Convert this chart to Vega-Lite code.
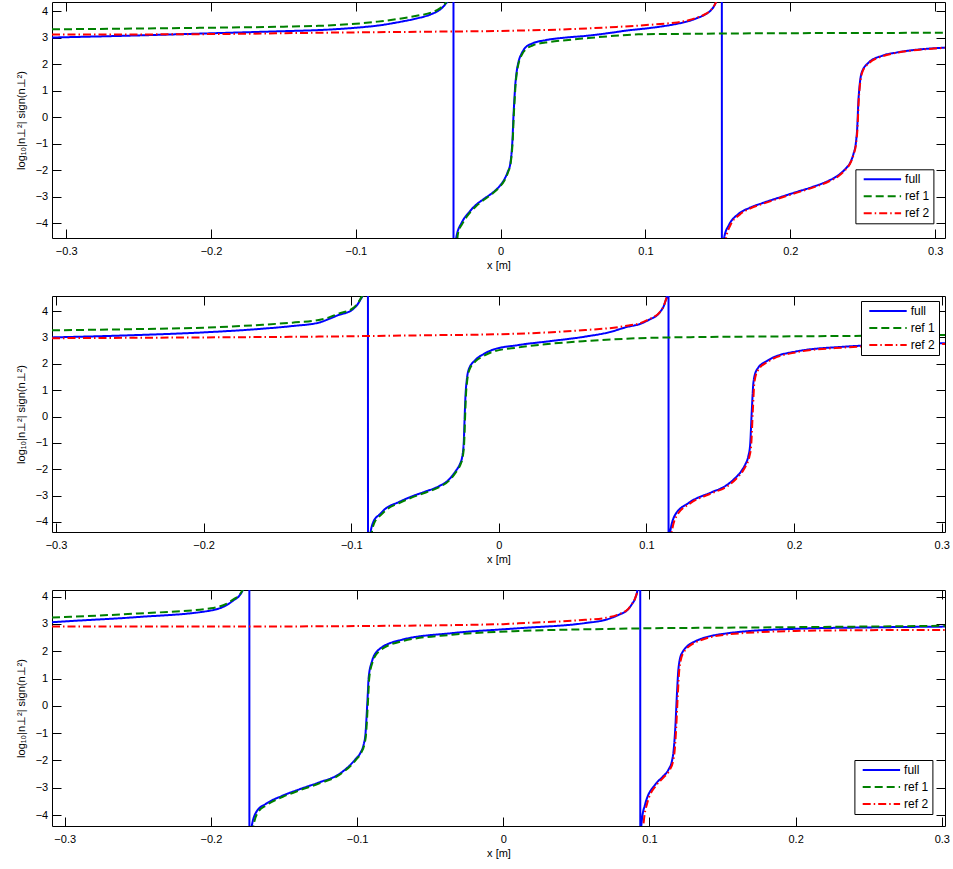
{
"$schema": "https://vega.github.io/schema/vega-lite/v6.json",
"background": "white",
"padding": {"left": 14, "top": 1, "right": 0, "bottom": 0},
"spacing": 24,
"config": {
 "view": {"stroke": "black", "strokeWidth": 1},
 "font": "Liberation Sans",
 "axis": {"grid": false, "domain": false, "tickColor": "black", "tickWidth": 1, "tickSize": -9, "labelFontSize": 11, "titleFontSize": 11, "titleFontWeight": "normal", "labelColor": "black", "titleColor": "black", "labelFont": "Liberation Sans", "titleFont": "Liberation Sans"},
 "axisX": {"labelPadding": 16.5, "titlePadding": 2.5},
 "axisY": {"labelPadding": 13.3, "titlePadding": 9},
 "legend": {"title": null, "orient": "none", "fillColor": "white", "strokeColor": "black", "padding": 4, "symbolType": "M-0.34,0H7.14", "symbolSize": 100, "symbolStrokeWidth": 2, "symbolOffset": 0, "labelFontSize": 12, "labelOffset": 33.7, "rowPadding": 5, "labelColor": "black", "labelFont": "Liberation Sans"}
},
"datasets": {
"p1": [
{"s":"full","g":"a","x":-0.3098,"y":3.00},{"s":"full","g":"a","x":-0.25,"y":3.08},{"s":"full","g":"a","x":-0.2,"y":3.16},{"s":"full","g":"a","x":-0.15,"y":3.24},{"s":"full","g":"a","x":-0.126,"y":3.28},{"s":"full","g":"a","x":-0.1,"y":3.37},{"s":"full","g":"a","x":-0.085,"y":3.45},{"s":"full","g":"a","x":-0.0685,"y":3.6},{"s":"full","g":"a","x":-0.058,"y":3.72},{"s":"full","g":"a","x":-0.048,"y":3.88},{"s":"full","g":"a","x":-0.042,"y":4.05},{"s":"full","g":"a","x":-0.0383,"y":4.25},{"s":"full","g":"a","x":-0.0355,"y":4.5},{"s":"full","g":"a","x":-0.0335,"y":5.0},{"s":"full","g":"a","x":-0.0326,"y":6},{"s":"full","g":"a","x":-0.03255,"y":-6},{"s":"full","g":"a","x":-0.0318,"y":-5},{"s":"full","g":"a","x":-0.0305,"y":-4.5},{"s":"full","g":"a","x":-0.0268,"y":-3.97},{"s":"full","g":"a","x":-0.022,"y":-3.6},{"s":"full","g":"a","x":-0.0176,"y":-3.34},{"s":"full","g":"a","x":-0.012,"y":-3.1},{"s":"full","g":"a","x":-0.006,"y":-2.87},{"s":"full","g":"a","x":-0.001,"y":-2.62},{"s":"full","g":"a","x":0.002,"y":-2.4},{"s":"full","g":"a","x":0.005,"y":-2.05},{"s":"full","g":"a","x":0.0066,"y":-1.77},{"s":"full","g":"a","x":0.0076,"y":-1.3},{"s":"full","g":"a","x":0.0082,"y":-0.8},{"s":"full","g":"a","x":0.0088,"y":0.0},{"s":"full","g":"a","x":0.0094,"y":0.6},{"s":"full","g":"a","x":0.01,"y":1.15},{"s":"full","g":"a","x":0.0108,"y":1.6},{"s":"full","g":"a","x":0.0124,"y":2.1},{"s":"full","g":"a","x":0.0145,"y":2.4},{"s":"full","g":"a","x":0.017,"y":2.62},{"s":"full","g":"a","x":0.022,"y":2.78},{"s":"full","g":"a","x":0.0308,"y":2.9},{"s":"full","g":"a","x":0.045,"y":3.0},{"s":"full","g":"a","x":0.0584,"y":3.06},{"s":"full","g":"a","x":0.075,"y":3.17},{"s":"full","g":"a","x":0.088,"y":3.27},{"s":"full","g":"a","x":0.1,"y":3.34},{"s":"full","g":"a","x":0.1113,"y":3.42},{"s":"full","g":"a","x":0.122,"y":3.52},{"s":"full","g":"a","x":0.1297,"y":3.62},{"s":"full","g":"a","x":0.136,"y":3.74},{"s":"full","g":"a","x":0.1412,"y":3.87},{"s":"full","g":"a","x":0.145,"y":4.02},{"s":"full","g":"a","x":0.148,"y":4.25},{"s":"full","g":"a","x":0.1498,"y":4.5},{"s":"full","g":"a","x":0.1515,"y":5.0},{"s":"full","g":"a","x":0.1527,"y":6},{"s":"full","g":"a","x":0.15275,"y":-6},{"s":"full","g":"a","x":0.1535,"y":-5},{"s":"full","g":"a","x":0.1545,"y":-4.5},{"s":"full","g":"a","x":0.1574,"y":-4.09},{"s":"full","g":"a","x":0.1643,"y":-3.65},{"s":"full","g":"a","x":0.172,"y":-3.42},{"s":"full","g":"a","x":0.1804,"y":-3.25},{"s":"full","g":"a","x":0.192,"y":-3.04},{"s":"full","g":"a","x":0.2034,"y":-2.84},{"s":"full","g":"a","x":0.215,"y":-2.64},{"s":"full","g":"a","x":0.2264,"y":-2.4},{"s":"full","g":"a","x":0.233,"y":-2.2},{"s":"full","g":"a","x":0.2379,"y":-1.96},{"s":"full","g":"a","x":0.2415,"y":-1.7},{"s":"full","g":"a","x":0.2436,"y":-1.39},{"s":"full","g":"a","x":0.2452,"y":-1.0},{"s":"full","g":"a","x":0.2462,"y":-0.4},{"s":"full","g":"a","x":0.247,"y":0.6},{"s":"full","g":"a","x":0.2477,"y":1.11},{"s":"full","g":"a","x":0.2493,"y":1.68},{"s":"full","g":"a","x":0.254,"y":2.05},{"s":"full","g":"a","x":0.2632,"y":2.31},{"s":"full","g":"a","x":0.2739,"y":2.44},{"s":"full","g":"a","x":0.2839,"y":2.52},{"s":"full","g":"a","x":0.2955,"y":2.58},{"s":"full","g":"a","x":0.3068,"y":2.62},
{"s":"ref 1","g":"a","x":-0.3098,"y":3.31},{"s":"ref 1","g":"a","x":-0.25,"y":3.34},{"s":"ref 1","g":"a","x":-0.2,"y":3.37},{"s":"ref 1","g":"a","x":-0.15,"y":3.41},{"s":"ref 1","g":"a","x":-0.126,"y":3.44},{"s":"ref 1","g":"a","x":-0.1,"y":3.52},{"s":"ref 1","g":"a","x":-0.085,"y":3.6},{"s":"ref 1","g":"a","x":-0.0685,"y":3.72},{"s":"ref 1","g":"a","x":-0.058,"y":3.82},{"s":"ref 1","g":"a","x":-0.048,"y":3.94},{"s":"ref 1","g":"a","x":-0.042,"y":4.1},{"s":"ref 1","g":"a","x":-0.038,"y":4.3},{"s":"ref 1","g":"a","x":-0.0355,"y":4.55},{"s":"ref 1","g":"a","x":-0.0335,"y":5.0},{"s":"ref 1","g":"a","x":-0.032,"y":6},
{"s":"ref 1","g":"b","x":-0.0312,"y":-6},{"s":"ref 1","g":"b","x":-0.0302,"y":-4.8},{"s":"ref 1","g":"b","x":-0.0295,"y":-4.4},{"s":"ref 1","g":"b","x":-0.026,"y":-3.98},{"s":"ref 1","g":"b","x":-0.0215,"y":-3.62},{"s":"ref 1","g":"b","x":-0.017,"y":-3.36},{"s":"ref 1","g":"b","x":-0.0115,"y":-3.12},{"s":"ref 1","g":"b","x":-0.0055,"y":-2.88},{"s":"ref 1","g":"b","x":-0.0005,"y":-2.62},{"s":"ref 1","g":"b","x":0.0025,"y":-2.4},{"s":"ref 1","g":"b","x":0.0053,"y":-2.05},{"s":"ref 1","g":"b","x":0.0068,"y":-1.77},{"s":"ref 1","g":"b","x":0.0078,"y":-1.3},{"s":"ref 1","g":"b","x":0.0084,"y":-0.8},{"s":"ref 1","g":"b","x":0.009,"y":0.0},{"s":"ref 1","g":"b","x":0.0096,"y":0.6},{"s":"ref 1","g":"b","x":0.0102,"y":1.15},{"s":"ref 1","g":"b","x":0.011,"y":1.6},{"s":"ref 1","g":"b","x":0.0126,"y":2.08},{"s":"ref 1","g":"b","x":0.0148,"y":2.37},{"s":"ref 1","g":"b","x":0.0175,"y":2.56},{"s":"ref 1","g":"b","x":0.022,"y":2.7},{"s":"ref 1","g":"b","x":0.0308,"y":2.81},{"s":"ref 1","g":"b","x":0.045,"y":2.9},{"s":"ref 1","g":"b","x":0.0584,"y":2.97},{"s":"ref 1","g":"b","x":0.075,"y":3.05},{"s":"ref 1","g":"b","x":0.095,"y":3.12},{"s":"ref 1","g":"b","x":0.13,"y":3.14},{"s":"ref 1","g":"b","x":0.18,"y":3.16},{"s":"ref 1","g":"b","x":0.24,"y":3.17},{"s":"ref 1","g":"b","x":0.3068,"y":3.18},
{"s":"ref 2","g":"a","x":-0.3098,"y":3.11},{"s":"ref 2","g":"a","x":-0.2,"y":3.13},{"s":"ref 2","g":"a","x":-0.126,"y":3.18},{"s":"ref 2","g":"a","x":-0.05,"y":3.22},{"s":"ref 2","g":"a","x":0.0,"y":3.25},{"s":"ref 2","g":"a","x":0.05,"y":3.32},{"s":"ref 2","g":"a","x":0.08,"y":3.4},{"s":"ref 2","g":"a","x":0.095,"y":3.45},{"s":"ref 2","g":"a","x":0.11,"y":3.51},{"s":"ref 2","g":"a","x":0.122,"y":3.57},{"s":"ref 2","g":"a","x":0.1297,"y":3.65},{"s":"ref 2","g":"a","x":0.136,"y":3.76},{"s":"ref 2","g":"a","x":0.1412,"y":3.88},{"s":"ref 2","g":"a","x":0.145,"y":4.03},{"s":"ref 2","g":"a","x":0.148,"y":4.26},{"s":"ref 2","g":"a","x":0.1498,"y":4.5},{"s":"ref 2","g":"a","x":0.1515,"y":5.0},{"s":"ref 2","g":"a","x":0.153,"y":6},
{"s":"ref 2","g":"b","x":0.154,"y":-6},{"s":"ref 2","g":"b","x":0.1552,"y":-4.7},{"s":"ref 2","g":"b","x":0.1585,"y":-4.09},{"s":"ref 2","g":"b","x":0.165,"y":-3.68},{"s":"ref 2","g":"b","x":0.1725,"y":-3.44},{"s":"ref 2","g":"b","x":0.181,"y":-3.27},{"s":"ref 2","g":"b","x":0.1925,"y":-3.06},{"s":"ref 2","g":"b","x":0.204,"y":-2.86},{"s":"ref 2","g":"b","x":0.2155,"y":-2.66},{"s":"ref 2","g":"b","x":0.2268,"y":-2.42},{"s":"ref 2","g":"b","x":0.2334,"y":-2.22},{"s":"ref 2","g":"b","x":0.2383,"y":-1.97},{"s":"ref 2","g":"b","x":0.2418,"y":-1.7},{"s":"ref 2","g":"b","x":0.2438,"y":-1.39},{"s":"ref 2","g":"b","x":0.2454,"y":-1.0},{"s":"ref 2","g":"b","x":0.2464,"y":-0.4},{"s":"ref 2","g":"b","x":0.2472,"y":0.6},{"s":"ref 2","g":"b","x":0.2479,"y":1.11},{"s":"ref 2","g":"b","x":0.2495,"y":1.66},{"s":"ref 2","g":"b","x":0.2542,"y":2.03},{"s":"ref 2","g":"b","x":0.2634,"y":2.29},{"s":"ref 2","g":"b","x":0.274,"y":2.43},{"s":"ref 2","g":"b","x":0.284,"y":2.51},{"s":"ref 2","g":"b","x":0.2955,"y":2.57},{"s":"ref 2","g":"b","x":0.3068,"y":2.61}
],
"p2": [
{"s":"full","g":"a","x":-0.3027,"y":3.0},{"s":"full","g":"a","x":-0.25,"y":3.08},{"s":"full","g":"a","x":-0.2,"y":3.19},{"s":"full","g":"a","x":-0.16,"y":3.33},{"s":"full","g":"a","x":-0.14,"y":3.43},{"s":"full","g":"a","x":-0.122,"y":3.56},{"s":"full","g":"a","x":-0.115,"y":3.7},{"s":"full","g":"a","x":-0.1086,"y":3.85},{"s":"full","g":"a","x":-0.0995,"y":4.04},{"s":"full","g":"a","x":-0.0939,"y":4.42},{"s":"full","g":"a","x":-0.0916,"y":4.7},{"s":"full","g":"a","x":-0.09,"y":5.2},{"s":"full","g":"a","x":-0.0887,"y":6},{"s":"full","g":"a","x":-0.08865,"y":-6},{"s":"full","g":"a","x":-0.0882,"y":-5},{"s":"full","g":"a","x":-0.0872,"y":-4.5},{"s":"full","g":"a","x":-0.0849,"y":-3.98},{"s":"full","g":"a","x":-0.0805,"y":-3.7},{"s":"full","g":"a","x":-0.0769,"y":-3.5},{"s":"full","g":"a","x":-0.068,"y":-3.25},{"s":"full","g":"a","x":-0.0589,"y":-3.03},{"s":"full","g":"a","x":-0.05,"y":-2.85},{"s":"full","g":"a","x":-0.0408,"y":-2.65},{"s":"full","g":"a","x":-0.034,"y":-2.4},{"s":"full","g":"a","x":-0.0295,"y":-2.09},{"s":"full","g":"a","x":-0.026,"y":-1.75},{"s":"full","g":"a","x":-0.025,"y":-1.58},{"s":"full","g":"a","x":-0.0238,"y":-1.0},{"s":"full","g":"a","x":-0.0232,"y":-0.06},{"s":"full","g":"a","x":-0.0226,"y":0.8},{"s":"full","g":"a","x":-0.0218,"y":1.35},{"s":"full","g":"a","x":-0.0205,"y":1.77},{"s":"full","g":"a","x":-0.016,"y":2.14},{"s":"full","g":"a","x":-0.0105,"y":2.36},{"s":"full","g":"a","x":-0.0047,"y":2.52},{"s":"full","g":"a","x":0.0133,"y":2.71},{"s":"full","g":"a","x":0.035,"y":2.86},{"s":"full","g":"a","x":0.0585,"y":3.03},{"s":"full","g":"a","x":0.075,"y":3.2},{"s":"full","g":"a","x":0.0878,"y":3.41},{"s":"full","g":"a","x":0.0946,"y":3.49},{"s":"full","g":"a","x":0.1014,"y":3.66},{"s":"full","g":"a","x":0.1093,"y":3.97},{"s":"full","g":"a","x":0.1127,"y":4.35},{"s":"full","g":"a","x":0.1142,"y":4.7},{"s":"full","g":"a","x":0.1149,"y":6},{"s":"full","g":"a","x":0.11495,"y":-6},{"s":"full","g":"a","x":0.1155,"y":-4.6},{"s":"full","g":"a","x":0.1194,"y":-3.73},{"s":"full","g":"a","x":0.1285,"y":-3.28},{"s":"full","g":"a","x":0.1442,"y":-2.87},{"s":"full","g":"a","x":0.153,"y":-2.65},{"s":"full","g":"a","x":0.16,"y":-2.34},{"s":"full","g":"a","x":0.1645,"y":-2.05},{"s":"full","g":"a","x":0.1668,"y":-1.83},{"s":"full","g":"a","x":0.169,"y":-1.5},{"s":"full","g":"a","x":0.1702,"y":-1.08},{"s":"full","g":"a","x":0.1713,"y":0.19},{"s":"full","g":"a","x":0.1725,"y":1.32},{"s":"full","g":"a","x":0.1747,"y":1.77},{"s":"full","g":"a","x":0.1826,"y":2.14},{"s":"full","g":"a","x":0.2007,"y":2.46},{"s":"full","g":"a","x":0.2346,"y":2.65},{"s":"full","g":"a","x":0.27,"y":2.73},{"s":"full","g":"a","x":0.3022,"y":2.78},
{"s":"ref 1","g":"a","x":-0.3027,"y":3.27},{"s":"ref 1","g":"a","x":-0.25,"y":3.31},{"s":"ref 1","g":"a","x":-0.2,"y":3.37},{"s":"ref 1","g":"a","x":-0.16,"y":3.48},{"s":"ref 1","g":"a","x":-0.14,"y":3.56},{"s":"ref 1","g":"a","x":-0.122,"y":3.66},{"s":"ref 1","g":"a","x":-0.115,"y":3.76},{"s":"ref 1","g":"a","x":-0.1086,"y":3.9},{"s":"ref 1","g":"a","x":-0.0995,"y":4.08},{"s":"ref 1","g":"a","x":-0.0939,"y":4.45},{"s":"ref 1","g":"a","x":-0.0916,"y":4.72},{"s":"ref 1","g":"a","x":-0.0895,"y":6},
{"s":"ref 1","g":"b","x":-0.0878,"y":-6},{"s":"ref 1","g":"b","x":-0.0865,"y":-4.6},{"s":"ref 1","g":"b","x":-0.0843,"y":-4.02},{"s":"ref 1","g":"b","x":-0.08,"y":-3.74},{"s":"ref 1","g":"b","x":-0.0763,"y":-3.54},{"s":"ref 1","g":"b","x":-0.0675,"y":-3.28},{"s":"ref 1","g":"b","x":-0.0584,"y":-3.06},{"s":"ref 1","g":"b","x":-0.0495,"y":-2.88},{"s":"ref 1","g":"b","x":-0.0404,"y":-2.68},{"s":"ref 1","g":"b","x":-0.0337,"y":-2.43},{"s":"ref 1","g":"b","x":-0.0292,"y":-2.12},{"s":"ref 1","g":"b","x":-0.0257,"y":-1.78},{"s":"ref 1","g":"b","x":-0.0247,"y":-1.6},{"s":"ref 1","g":"b","x":-0.0235,"y":-1.0},{"s":"ref 1","g":"b","x":-0.0229,"y":-0.06},{"s":"ref 1","g":"b","x":-0.0223,"y":0.8},{"s":"ref 1","g":"b","x":-0.0215,"y":1.33},{"s":"ref 1","g":"b","x":-0.0202,"y":1.74},{"s":"ref 1","g":"b","x":-0.0157,"y":2.1},{"s":"ref 1","g":"b","x":-0.0102,"y":2.3},{"s":"ref 1","g":"b","x":-0.0044,"y":2.45},{"s":"ref 1","g":"b","x":0.0133,"y":2.62},{"s":"ref 1","g":"b","x":0.035,"y":2.76},{"s":"ref 1","g":"b","x":0.0585,"y":2.86},{"s":"ref 1","g":"b","x":0.0946,"y":2.97},{"s":"ref 1","g":"b","x":0.13,"y":3.01},{"s":"ref 1","g":"b","x":0.2,"y":3.04},{"s":"ref 1","g":"b","x":0.25,"y":3.06},{"s":"ref 1","g":"b","x":0.3022,"y":3.09},
{"s":"ref 2","g":"a","x":-0.3027,"y":2.97},{"s":"ref 2","g":"a","x":-0.2,"y":3.0},{"s":"ref 2","g":"a","x":-0.122,"y":3.03},{"s":"ref 2","g":"a","x":-0.05,"y":3.08},{"s":"ref 2","g":"a","x":0.0,"y":3.12},{"s":"ref 2","g":"a","x":0.03,"y":3.18},{"s":"ref 2","g":"a","x":0.0585,"y":3.28},{"s":"ref 2","g":"a","x":0.075,"y":3.35},{"s":"ref 2","g":"a","x":0.0878,"y":3.45},{"s":"ref 2","g":"a","x":0.0946,"y":3.52},{"s":"ref 2","g":"a","x":0.1014,"y":3.68},{"s":"ref 2","g":"a","x":0.1093,"y":3.98},{"s":"ref 2","g":"a","x":0.1127,"y":4.36},{"s":"ref 2","g":"a","x":0.1142,"y":4.7},{"s":"ref 2","g":"a","x":0.1152,"y":6},
{"s":"ref 2","g":"b","x":0.1162,"y":-6},{"s":"ref 2","g":"b","x":0.1168,"y":-4.5},{"s":"ref 2","g":"b","x":0.1205,"y":-3.76},{"s":"ref 2","g":"b","x":0.1295,"y":-3.3},{"s":"ref 2","g":"b","x":0.145,"y":-2.89},{"s":"ref 2","g":"b","x":0.154,"y":-2.67},{"s":"ref 2","g":"b","x":0.1608,"y":-2.36},{"s":"ref 2","g":"b","x":0.1652,"y":-2.07},{"s":"ref 2","g":"b","x":0.1675,"y":-1.85},{"s":"ref 2","g":"b","x":0.1697,"y":-1.52},{"s":"ref 2","g":"b","x":0.1709,"y":-1.1},{"s":"ref 2","g":"b","x":0.172,"y":0.19},{"s":"ref 2","g":"b","x":0.1731,"y":1.3},{"s":"ref 2","g":"b","x":0.1753,"y":1.74},{"s":"ref 2","g":"b","x":0.1832,"y":2.11},{"s":"ref 2","g":"b","x":0.201,"y":2.43},{"s":"ref 2","g":"b","x":0.2346,"y":2.62},{"s":"ref 2","g":"b","x":0.27,"y":2.7},{"s":"ref 2","g":"b","x":0.3022,"y":2.75}
],
"p3": [
{"s":"full","g":"a","x":-0.3087,"y":3.06},{"s":"full","g":"a","x":-0.3,"y":3.09},{"s":"full","g":"a","x":-0.25,"y":3.25},{"s":"full","g":"a","x":-0.2,"y":3.49},{"s":"full","g":"a","x":-0.1856,"y":3.82},{"s":"full","g":"a","x":-0.1787,"y":4.18},{"s":"full","g":"a","x":-0.176,"y":4.6},{"s":"full","g":"a","x":-0.1745,"y":5.2},{"s":"full","g":"a","x":-0.1737,"y":6},{"s":"full","g":"a","x":-0.17365,"y":-6},{"s":"full","g":"a","x":-0.1732,"y":-5},{"s":"full","g":"a","x":-0.1722,"y":-4.45},{"s":"full","g":"a","x":-0.1685,"y":-3.85},{"s":"full","g":"a","x":-0.1627,"y":-3.6},{"s":"full","g":"a","x":-0.1514,"y":-3.3},{"s":"full","g":"a","x":-0.1396,"y":-3.06},{"s":"full","g":"a","x":-0.1263,"y":-2.81},{"s":"full","g":"a","x":-0.1126,"y":-2.51},{"s":"full","g":"a","x":-0.1012,"y":-1.96},{"s":"full","g":"a","x":-0.0975,"y":-1.7},{"s":"full","g":"a","x":-0.0955,"y":-1.42},{"s":"full","g":"a","x":-0.0942,"y":-1.0},{"s":"full","g":"a","x":-0.0933,"y":-0.2},{"s":"full","g":"a","x":-0.0927,"y":0.4},{"s":"full","g":"a","x":-0.0921,"y":1.02},{"s":"full","g":"a","x":-0.0898,"y":1.63},{"s":"full","g":"a","x":-0.0853,"y":2.05},{"s":"full","g":"a","x":-0.0693,"y":2.42},{"s":"full","g":"a","x":-0.0351,"y":2.66},{"s":"full","g":"a","x":0.0105,"y":2.84},{"s":"full","g":"a","x":0.0561,"y":3.03},{"s":"full","g":"a","x":0.07,"y":3.15},{"s":"full","g":"a","x":0.0789,"y":3.33},{"s":"full","g":"a","x":0.0857,"y":3.55},{"s":"full","g":"a","x":0.088,"y":3.72},{"s":"full","g":"a","x":0.0903,"y":3.94},{"s":"full","g":"a","x":0.092,"y":4.3},{"s":"full","g":"a","x":0.093,"y":4.8},{"s":"full","g":"a","x":0.0937,"y":6},{"s":"full","g":"a","x":0.09375,"y":-6},{"s":"full","g":"a","x":0.0941,"y":-4.8},{"s":"full","g":"a","x":0.0948,"y":-4.2},{"s":"full","g":"a","x":0.0971,"y":-3.6},{"s":"full","g":"a","x":0.104,"y":-2.88},{"s":"full","g":"a","x":0.109,"y":-2.6},{"s":"full","g":"a","x":0.1131,"y":-2.33},{"s":"full","g":"a","x":0.1155,"y":-2.0},{"s":"full","g":"a","x":0.1165,"y":-1.66},{"s":"full","g":"a","x":0.1177,"y":-0.81},{"s":"full","g":"a","x":0.1188,"y":0.41},{"s":"full","g":"a","x":0.1199,"y":1.38},{"s":"full","g":"a","x":0.1222,"y":1.93},{"s":"full","g":"a","x":0.1313,"y":2.36},{"s":"full","g":"a","x":0.1541,"y":2.66},{"s":"full","g":"a","x":0.1997,"y":2.82},{"s":"full","g":"a","x":0.25,"y":2.87},{"s":"full","g":"a","x":0.3022,"y":2.9},
{"s":"ref 1","g":"a","x":-0.3087,"y":3.23},{"s":"ref 1","g":"a","x":-0.3,"y":3.25},{"s":"ref 1","g":"a","x":-0.25,"y":3.38},{"s":"ref 1","g":"a","x":-0.2,"y":3.57},{"s":"ref 1","g":"a","x":-0.1856,"y":3.86},{"s":"ref 1","g":"a","x":-0.1787,"y":4.2},{"s":"ref 1","g":"a","x":-0.176,"y":4.6},{"s":"ref 1","g":"a","x":-0.1742,"y":6},
{"s":"ref 1","g":"b","x":-0.1725,"y":-6},{"s":"ref 1","g":"b","x":-0.1712,"y":-4.5},{"s":"ref 1","g":"b","x":-0.1678,"y":-3.9},{"s":"ref 1","g":"b","x":-0.162,"y":-3.64},{"s":"ref 1","g":"b","x":-0.1508,"y":-3.33},{"s":"ref 1","g":"b","x":-0.1391,"y":-3.09},{"s":"ref 1","g":"b","x":-0.1258,"y":-2.84},{"s":"ref 1","g":"b","x":-0.1122,"y":-2.53},{"s":"ref 1","g":"b","x":-0.1008,"y":-1.98},{"s":"ref 1","g":"b","x":-0.0971,"y":-1.71},{"s":"ref 1","g":"b","x":-0.0951,"y":-1.43},{"s":"ref 1","g":"b","x":-0.0938,"y":-1.0},{"s":"ref 1","g":"b","x":-0.0929,"y":-0.2},{"s":"ref 1","g":"b","x":-0.0923,"y":0.4},{"s":"ref 1","g":"b","x":-0.0917,"y":1.0},{"s":"ref 1","g":"b","x":-0.0894,"y":1.6},{"s":"ref 1","g":"b","x":-0.0849,"y":2.0},{"s":"ref 1","g":"b","x":-0.069,"y":2.37},{"s":"ref 1","g":"b","x":-0.0351,"y":2.6},{"s":"ref 1","g":"b","x":0.0105,"y":2.74},{"s":"ref 1","g":"b","x":0.0561,"y":2.8},{"s":"ref 1","g":"b","x":0.1,"y":2.84},{"s":"ref 1","g":"b","x":0.15,"y":2.86},{"s":"ref 1","g":"b","x":0.2,"y":2.88},{"s":"ref 1","g":"b","x":0.3022,"y":2.93},
{"s":"ref 2","g":"a","x":-0.3087,"y":2.9},{"s":"ref 2","g":"a","x":-0.2,"y":2.9},{"s":"ref 2","g":"a","x":-0.1,"y":2.92},{"s":"ref 2","g":"a","x":0.0,"y":2.99},{"s":"ref 2","g":"a","x":0.0105,"y":3.02},{"s":"ref 2","g":"a","x":0.0561,"y":3.15},{"s":"ref 2","g":"a","x":0.07,"y":3.22},{"s":"ref 2","g":"a","x":0.0789,"y":3.35},{"s":"ref 2","g":"a","x":0.0857,"y":3.56},{"s":"ref 2","g":"a","x":0.088,"y":3.73},{"s":"ref 2","g":"a","x":0.0903,"y":3.95},{"s":"ref 2","g":"a","x":0.092,"y":4.3},{"s":"ref 2","g":"a","x":0.093,"y":4.8},{"s":"ref 2","g":"a","x":0.094,"y":6},
{"s":"ref 2","g":"b","x":0.0948,"y":-6},{"s":"ref 2","g":"b","x":0.0953,"y":-4.8},{"s":"ref 2","g":"b","x":0.0962,"y":-4.2},{"s":"ref 2","g":"b","x":0.0983,"y":-3.6},{"s":"ref 2","g":"b","x":0.1048,"y":-2.9},{"s":"ref 2","g":"b","x":0.1097,"y":-2.62},{"s":"ref 2","g":"b","x":0.1138,"y":-2.35},{"s":"ref 2","g":"b","x":0.1162,"y":-2.02},{"s":"ref 2","g":"b","x":0.1172,"y":-1.68},{"s":"ref 2","g":"b","x":0.1183,"y":-0.82},{"s":"ref 2","g":"b","x":0.1194,"y":0.4},{"s":"ref 2","g":"b","x":0.1205,"y":1.36},{"s":"ref 2","g":"b","x":0.1228,"y":1.9},{"s":"ref 2","g":"b","x":0.1318,"y":2.33},{"s":"ref 2","g":"b","x":0.1546,"y":2.62},{"s":"ref 2","g":"b","x":0.2,"y":2.74},{"s":"ref 2","g":"b","x":0.25,"y":2.77},{"s":"ref 2","g":"b","x":0.3022,"y":2.78}
]
},
"resolve": {"scale": {"color": "independent", "strokeDash": "independent"}},
"vconcat": [
{
 "width": 893, "height": 236,
 "data": {"name": "p1"},
 "layer": [
  {"mark": {"type": "line", "clip": true, "strokeWidth": 2, "interpolate": "monotone"},
   "encoding": {
    "x": {"field": "x", "type": "quantitative", "scale": {"domain": [-0.3098, 0.3068], "nice": false, "zero": false}, "axis": {"values": [-0.3, -0.2, -0.1, 0, 0.1, 0.2, 0.3], "format": "~g", "title": "x [m]"}},
    "y": {"field": "y", "type": "quantitative", "scale": {"domain": [-4.56, 4.34], "nice": false, "zero": false}, "axis": {"values": [-4, -3, -2, -1, 0, 1, 2, 3, 4], "title": "log₁₀|n⊥²| sign(n⊥²)"}},
    "color": {"field": "s", "type": "nominal", "scale": {"domain": ["full", "ref 1", "ref 2"], "range": ["#0000ff", "#008000", "#ff0000"]}, "legend": {"legendX": 803.4, "legendY": 167.3}},
    "strokeDash": {"field": "s", "type": "nominal", "scale": {"domain": ["full", "ref 1", "ref 2"], "range": [[1, 0], [8, 4], [8, 3, 1.5, 3]]}, "legend": {"legendX": 803.4, "legendY": 167.3}},
    "detail": {"field": "g"}
   }},
  {"mark": {"type": "point", "opacity": 0, "clip": true},
   "encoding": {
    "x": {"field": "x", "type": "quantitative", "scale": {"domain": [-0.3098, 0.3068], "nice": false, "zero": false}, "axis": {"orient": "top", "values": [-0.3, -0.2, -0.1, 0, 0.1, 0.2, 0.3], "labels": false, "title": null}},
    "y": {"field": "y", "type": "quantitative", "scale": {"domain": [-4.56, 4.34], "nice": false, "zero": false}, "axis": {"orient": "right", "values": [-4, -3, -2, -1, 0, 1, 2, 3, 4], "labels": false, "title": null}}
   }}
 ],
 "resolve": {"axis": {"x": "independent", "y": "independent"}}
},
{
 "width": 893, "height": 236,
 "data": {"name": "p2"},
 "layer": [
  {"mark": {"type": "line", "clip": true, "strokeWidth": 2, "interpolate": "monotone"},
   "encoding": {
    "x": {"field": "x", "type": "quantitative", "scale": {"domain": [-0.3027, 0.3022], "nice": false, "zero": false}, "axis": {"values": [-0.3, -0.2, -0.1, 0, 0.1, 0.2, 0.3], "format": "~g", "title": "x [m]"}},
    "y": {"field": "y", "type": "quantitative", "scale": {"domain": [-4.38, 4.57], "nice": false, "zero": false}, "axis": {"values": [-4, -3, -2, -1, 0, 1, 2, 3, 4], "title": "log₁₀|n⊥²| sign(n⊥²)"}},
    "color": {"field": "s", "type": "nominal", "scale": {"domain": ["full", "ref 1", "ref 2"], "range": ["#0000ff", "#008000", "#ff0000"]}, "legend": {"legendX": 809, "legendY": 5}},
    "strokeDash": {"field": "s", "type": "nominal", "scale": {"domain": ["full", "ref 1", "ref 2"], "range": [[1, 0], [8, 4], [8, 3, 1.5, 3]]}, "legend": {"legendX": 809, "legendY": 5}},
    "detail": {"field": "g"}
   }},
  {"mark": {"type": "point", "opacity": 0, "clip": true},
   "encoding": {
    "x": {"field": "x", "type": "quantitative", "scale": {"domain": [-0.3027, 0.3022], "nice": false, "zero": false}, "axis": {"orient": "top", "values": [-0.3, -0.2, -0.1, 0, 0.1, 0.2, 0.3], "labels": false, "title": null}},
    "y": {"field": "y", "type": "quantitative", "scale": {"domain": [-4.38, 4.57], "nice": false, "zero": false}, "axis": {"orient": "right", "values": [-4, -3, -2, -1, 0, 1, 2, 3, 4], "labels": false, "title": null}}
   }}
 ],
 "resolve": {"axis": {"x": "independent", "y": "independent"}}
},
{
 "width": 893, "height": 236,
 "data": {"name": "p3"},
 "layer": [
  {"mark": {"type": "line", "clip": true, "strokeWidth": 2, "interpolate": "monotone"},
   "encoding": {
    "x": {"field": "x", "type": "quantitative", "scale": {"domain": [-0.3087, 0.3022], "nice": false, "zero": false}, "axis": {"values": [-0.3, -0.2, -0.1, 0, 0.1, 0.2, 0.3], "format": "~g", "title": "x [m]"}},
    "y": {"field": "y", "type": "quantitative", "scale": {"domain": [-4.40, 4.24], "nice": false, "zero": false}, "axis": {"values": [-4, -3, -2, -1, 0, 1, 2, 3, 4], "title": "log₁₀|n⊥²| sign(n⊥²)"}},
    "color": {"field": "s", "type": "nominal", "scale": {"domain": ["full", "ref 1", "ref 2"], "range": ["#0000ff", "#008000", "#ff0000"]}, "legend": {"legendX": 802.4, "legendY": 170}},
    "strokeDash": {"field": "s", "type": "nominal", "scale": {"domain": ["full", "ref 1", "ref 2"], "range": [[1, 0], [8, 4], [8, 3, 1.5, 3]]}, "legend": {"legendX": 802.4, "legendY": 170}},
    "detail": {"field": "g"}
   }},
  {"mark": {"type": "point", "opacity": 0, "clip": true},
   "encoding": {
    "x": {"field": "x", "type": "quantitative", "scale": {"domain": [-0.3087, 0.3022], "nice": false, "zero": false}, "axis": {"orient": "top", "values": [-0.3, -0.2, -0.1, 0, 0.1, 0.2, 0.3], "labels": false, "title": null}},
    "y": {"field": "y", "type": "quantitative", "scale": {"domain": [-4.40, 4.24], "nice": false, "zero": false}, "axis": {"orient": "right", "values": [-4, -3, -2, -1, 0, 1, 2, 3, 4], "labels": false, "title": null}}
   }}
 ],
 "resolve": {"axis": {"x": "independent", "y": "independent"}}
}
]
}
